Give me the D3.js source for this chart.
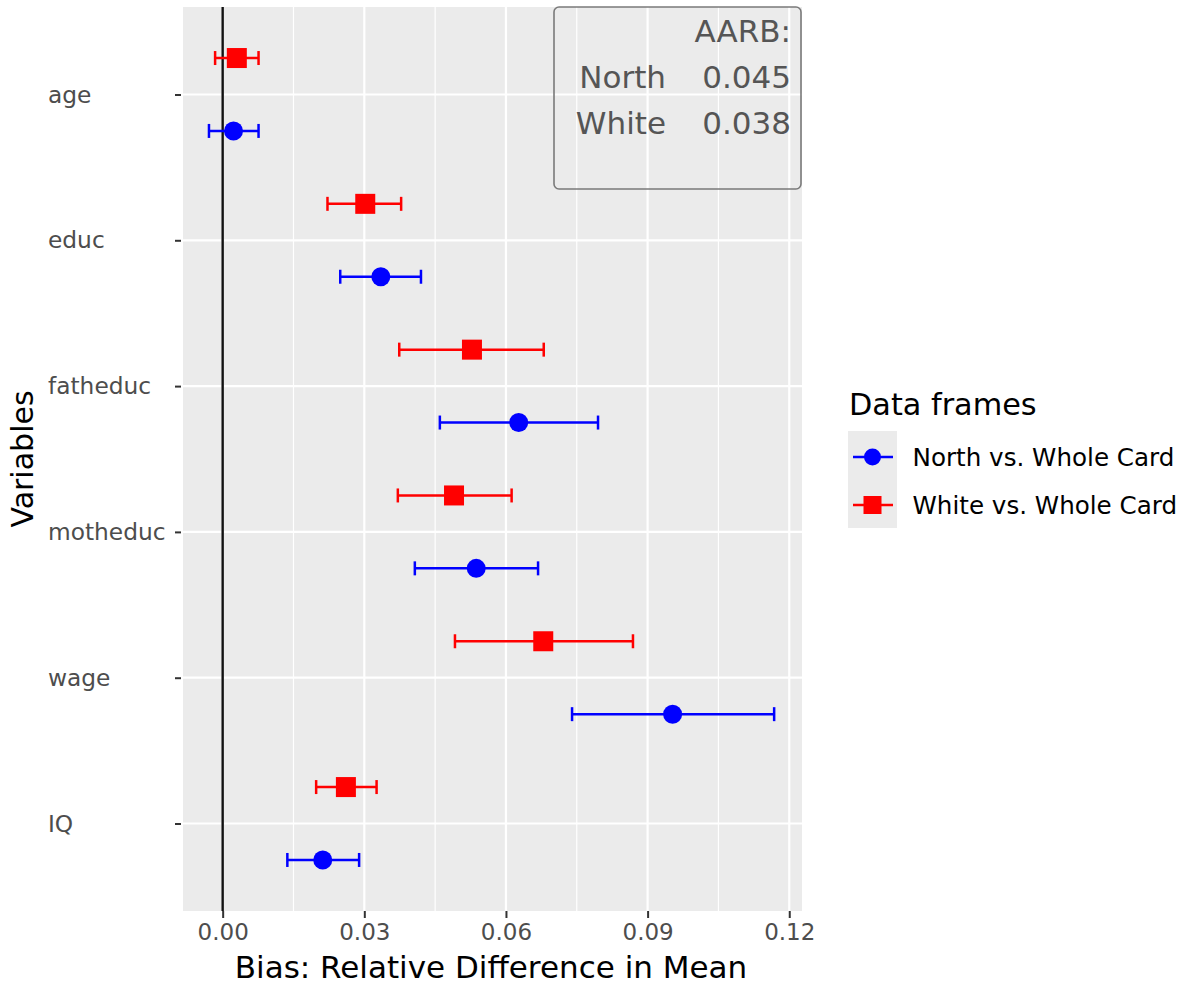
<!DOCTYPE html>
<html>
<head>
<meta charset="utf-8">
<script src="https://cdn.jsdelivr.net/npm/d3@7"></script>
<style>
  body { margin: 0; background: #fff; }
  text { font-family: "DejaVu Sans", sans-serif; }
</style>
</head>
<body>
<div id="chart"></div>
<script>
// === Data ===
const categories = ["age", "educ", "fatheduc", "motheduc", "wage", "IQ"];
const seriesNames = ["North vs. Whole Card", "White vs. Whole Card"];

const northMean = [0.0023, 0.0335, 0.0627, 0.0537, 0.0953, 0.0212];
const northLow  = [-0.0029, 0.0249, 0.0460, 0.0407, 0.0740, 0.0137];
const northHigh = [0.0076, 0.0420, 0.0795, 0.0668, 0.1168, 0.0289];

const whiteMean = [0.0030, 0.0302, 0.0528, 0.0490, 0.0679, 0.0261];
const whiteLow  = [-0.0016, 0.0222, 0.0374, 0.0371, 0.0492, 0.0198];
const whiteHigh = [0.0076, 0.0378, 0.0680, 0.0612, 0.0869, 0.0326];

const xTicks = [0, 0.03, 0.06, 0.09, 0.12];
const xMinor = [0.015, 0.045, 0.075, 0.105];

const aarbNames = ["North", "White"];
const aarbValues = ["0.045", "0.038"];

document.addEventListener("DOMContentLoaded", () => {
  const width = 1185;
  const height = 985;
  const panel = { left: 183, right: 802, top: 7, bottom: 911 };

  const svg = d3.select("#chart")
    .append("svg")
    .attr("width", width)
    .attr("height", height);

  const x = d3.scaleLinear()
    .domain([-0.0084, 0.1227])
    .range([panel.left, panel.right]);

  const y = d3.scalePoint()
    .domain(categories)
    .range([panel.top, panel.bottom])
    .padding(0.6);

  const dodge = y.step() * 0.25;
  const capH = 7;

  // panel background
  svg.append("rect")
    .attr("x", panel.left)
    .attr("y", panel.top)
    .attr("width", panel.right - panel.left)
    .attr("height", panel.bottom - panel.top)
    .attr("fill", "#ebebeb");

  // grid
  svg.append("g")
    .selectAll("line")
    .data(xMinor)
    .join("line")
    .attr("x1", d => x(d)).attr("x2", d => x(d))
    .attr("y1", panel.top).attr("y2", panel.bottom)
    .attr("stroke", "#fff").attr("stroke-width", 1.2);

  svg.append("g")
    .selectAll("line")
    .data(xTicks)
    .join("line")
    .attr("x1", d => x(d)).attr("x2", d => x(d))
    .attr("y1", panel.top).attr("y2", panel.bottom)
    .attr("stroke", "#fff").attr("stroke-width", 2.2);

  svg.append("g")
    .selectAll("line")
    .data(categories)
    .join("line")
    .attr("x1", panel.left).attr("x2", panel.right)
    .attr("y1", d => y(d)).attr("y2", d => y(d))
    .attr("stroke", "#fff").attr("stroke-width", 2.2);

  // zero line
  svg.append("line")
    .attr("x1", x(0)).attr("x2", x(0))
    .attr("y1", panel.top).attr("y2", panel.bottom)
    .attr("stroke", "#111").attr("stroke-width", 2.4);

  // build rows
  const rows = [];
  categories.forEach((c, i) => {
    rows.push({ cat: c, s: 0, mean: northMean[i], lo: northLow[i], hi: northHigh[i] });
    rows.push({ cat: c, s: 1, mean: whiteMean[i], lo: whiteLow[i], hi: whiteHigh[i] });
  });
  const colors = ["#0000ff", "#ff0000"];
  const yPos = d => y(d.cat) + (d.s === 0 ? dodge : -dodge);

  // error bars
  const eb = svg.append("g")
    .selectAll("g")
    .data(rows)
    .join("g")
    .attr("stroke", d => colors[d.s])
    .attr("stroke-width", 2.5);

  eb.append("line")
    .attr("x1", d => x(d.lo)).attr("x2", d => x(d.hi))
    .attr("y1", yPos).attr("y2", yPos);
  eb.append("line")
    .attr("x1", d => x(d.lo)).attr("x2", d => x(d.lo))
    .attr("y1", d => yPos(d) - capH).attr("y2", d => yPos(d) + capH);
  eb.append("line")
    .attr("x1", d => x(d.hi)).attr("x2", d => x(d.hi))
    .attr("y1", d => yPos(d) - capH).attr("y2", d => yPos(d) + capH);

  // points
  svg.append("g")
    .selectAll("circle")
    .data(rows.filter(d => d.s === 0))
    .join("circle")
    .attr("cx", d => x(d.mean))
    .attr("cy", yPos)
    .attr("r", 9.5)
    .attr("fill", colors[0]);

  svg.append("g")
    .selectAll("rect")
    .data(rows.filter(d => d.s === 1))
    .join("rect")
    .attr("x", d => x(d.mean) - 10)
    .attr("y", d => yPos(d) - 10)
    .attr("width", 20)
    .attr("height", 20)
    .attr("fill", colors[1]);

  // AARB annotation box
  const box = svg.append("g");
  box.append("rect")
    .attr("x", 554).attr("y", 7)
    .attr("width", 247).attr("height", 182)
    .attr("rx", 5)
    .attr("fill", "none")
    .attr("stroke", "#7a7a7a")
    .attr("stroke-width", 1.6);
  box.append("text")
    .attr("x", 791).attr("y", 42)
    .attr("text-anchor", "end")
    .attr("font-size", 31)
    .attr("fill", "#555")
    .text("AARB:");
  aarbNames.forEach((n, i) => {
    box.append("text")
      .attr("x", 666).attr("y", 88 + i * 45.5)
      .attr("text-anchor", "end")
      .attr("font-size", 31)
      .attr("fill", "#555")
      .text(n);
    box.append("text")
      .attr("x", 791).attr("y", 88 + i * 45.5)
      .attr("text-anchor", "end")
      .attr("font-size", 31)
      .attr("fill", "#555")
      .text(aarbValues[i]);
  });

  // X Axis
  const xAxis = svg.append("g")
    .attr("transform", `translate(0,${panel.bottom})`)
    .call(d3.axisBottom(x).tickValues(xTicks).tickFormat(d3.format(".2f")).tickSize(7).tickPadding(6));
  xAxis.select(".domain").remove();
  xAxis.selectAll(".tick line").attr("stroke", "#333").attr("stroke-width", 2);
  xAxis.selectAll(".tick text")
    .attr("font-size", 23)
    .attr("font-family", "DejaVu Sans")
    .attr("fill", "#4d4d4d");

  // Y Axis (labels left-aligned)
  const yAxis = svg.append("g")
    .attr("transform", `translate(${panel.left},0)`)
    .call(d3.axisLeft(y).tickSize(8).tickFormat(""));
  yAxis.select(".domain").remove();
  yAxis.selectAll(".tick line").attr("stroke", "#333").attr("stroke-width", 2)
    .attr("x1", -2);

  svg.append("g")
    .selectAll("text")
    .data(categories)
    .join("text")
    .attr("x", 48)
    .attr("y", d => y(d))
    .attr("dy", "0.35em")
    .attr("font-size", 23.3)
    .attr("fill", "#4d4d4d")
    .text(d => d);

  // axis titles
  svg.append("text")
    .attr("x", 491)
    .attr("y", 978)
    .attr("text-anchor", "middle")
    .attr("font-size", 31)
    .attr("fill", "#000")
    .text("Bias: Relative Difference in Mean");

  svg.append("text")
    .attr("transform", `translate(33,${(panel.top + panel.bottom) / 2}) rotate(-90)`)
    .attr("text-anchor", "middle")
    .attr("font-size", 30)
    .attr("fill", "#000")
    .text("Variables");

  // Legend
  const legend = svg.append("g").attr("transform", "translate(848,0)");
  legend.append("text")
    .attr("x", 1).attr("y", 415)
    .attr("font-size", 30.3)
    .attr("fill", "#000")
    .text("Data frames");
  legend.append("rect")
    .attr("x", 0).attr("y", 431)
    .attr("width", 49).attr("height", 97)
    .attr("fill", "#ebebeb");

  const keys = legend.selectAll(".key")
    .data(seriesNames)
    .join("g")
    .attr("class", "key")
    .attr("transform", (d, i) => `translate(0,${457 + i * 48})`);
  keys.append("line")
    .attr("x1", 5).attr("x2", 45)
    .attr("stroke", (d, i) => colors[i])
    .attr("stroke-width", 2.5);
  keys.filter((d, i) => i === 0)
    .append("circle")
    .attr("cx", 24.5).attr("r", 8.5)
    .attr("fill", colors[0]);
  keys.filter((d, i) => i === 1)
    .append("rect")
    .attr("x", 15.5).attr("y", -9)
    .attr("width", 18).attr("height", 18)
    .attr("fill", colors[1]);
  keys.append("text")
    .attr("x", 64.5)
    .attr("dy", "0.35em")
    .attr("font-size", 24.6)
    .attr("fill", "#000")
    .text(d => d);
});
</script>
</body>
</html>
